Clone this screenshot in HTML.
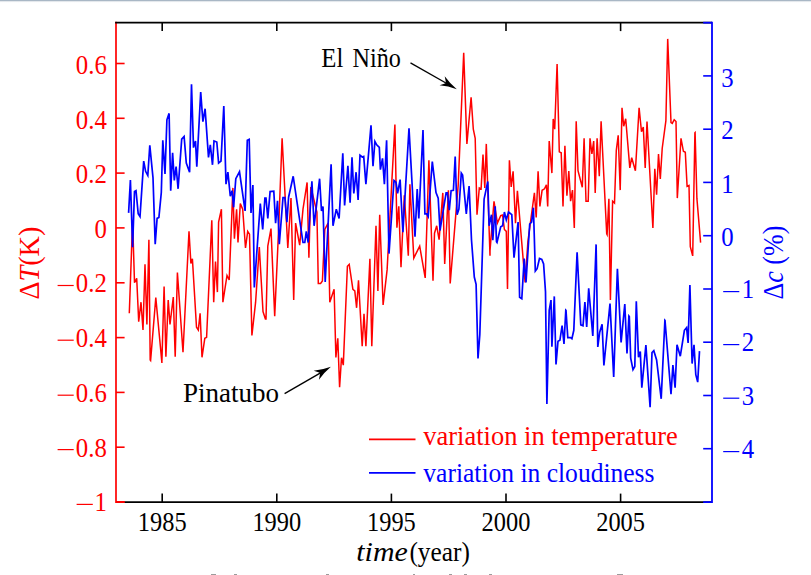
<!DOCTYPE html>
<html><head><meta charset="utf-8"><style>
html,body{margin:0;padding:0;background:#fff;width:811px;height:575px;overflow:hidden}
#top{position:absolute;left:0;top:0;width:811px;height:3px;background:linear-gradient(#a9b7c5 0px,#a9b7c5 0.8px,#e4e8ec 1.5px,#fff 2.6px)}
svg{position:absolute;left:0;top:0}
text{font-family:"Liberation Serif",serif}
</style></head><body>
<div id="top"></div>
<svg width="811" height="575" viewBox="0 0 811 575">
<line x1="162.2" y1="502" x2="162.2" y2="493.6" stroke="#000" stroke-width="1.6"/>
<line x1="162.2" y1="22.7" x2="162.2" y2="31.1" stroke="#000" stroke-width="1.6"/>
<line x1="276.8" y1="502" x2="276.8" y2="493.6" stroke="#000" stroke-width="1.6"/>
<line x1="276.8" y1="22.7" x2="276.8" y2="31.1" stroke="#000" stroke-width="1.6"/>
<line x1="391.4" y1="502" x2="391.4" y2="493.6" stroke="#000" stroke-width="1.6"/>
<line x1="391.4" y1="22.7" x2="391.4" y2="31.1" stroke="#000" stroke-width="1.6"/>
<line x1="506.0" y1="502" x2="506.0" y2="493.6" stroke="#000" stroke-width="1.6"/>
<line x1="506.0" y1="22.7" x2="506.0" y2="31.1" stroke="#000" stroke-width="1.6"/>
<line x1="620.6" y1="502" x2="620.6" y2="493.6" stroke="#000" stroke-width="1.6"/>
<line x1="620.6" y1="22.7" x2="620.6" y2="31.1" stroke="#000" stroke-width="1.6"/>
<path d="M129.3,313.3 L132.6,220.3 L134.5,282.8 L136.7,278.2 L138.7,321.7 L141.0,302.2 L143.0,330.0 L145.0,264.3 L146.9,324.4 L148.9,239.7 L150.2,360.0 L150.6,360.5 L155.8,297.6 L160.4,346.6 L161.9,362.9 L161.9,361.4 L164.1,286.5 L165.9,356.8 L168.2,300.0 L170.0,324.4 L173.3,297.1 L175.2,356.8 L177.4,272.6 L183.0,352.2 L189.0,231.4 L190.9,263.4 L192.4,258.8 L196.5,327.2 L198.3,330.0 L200.1,313.3 L202.0,357.3 L204.8,338.3 L206.6,337.4 L211.8,220.3 L213.7,302.2 L215.5,261.5 L217.4,292.1 L218.6,222.1 L221.4,209.2 L222.9,302.2 L227.0,275.4 L229.2,280.0 L232.9,187.9 L234.4,238.8 L236.6,209.2 L238.0,242.5 L240.3,203.6 L242.7,209.2 L245.5,248.0 L247.7,231.4 L249.5,234.2 L251.9,335.5 L255.6,302.2 L259.3,247.1 L263.0,311.5 L265.4,318.9 L266.0,318.9 L267.8,246.2 L271.0,228.6 L274.7,316.1 L278.4,234.2 L282.1,138.3 L287.8,248.0 L291.0,198.1 L293.7,300.0 L295.6,223.1 L299.7,245.2 L303.0,209.2 L307.1,182.4 L308.9,257.8 L310.8,187.0 L316.9,212.0 L318.3,283.4 L320.6,283.4 L322.4,281.0 L324.8,229.5 L328.1,223.1 L329.8,302.2 L334.1,289.3 L335.9,357.4 L337.8,338.3 L339.6,387.3 L341.5,357.7 L343.3,365.1 L347.4,266.2 L349.2,264.3 L352.9,289.3 L354.8,290.8 L356.6,307.8 L358.5,280.4 L362.2,346.3 L364.0,313.7 L365.9,346.3 L369.9,258.8 L371.8,346.3 L376.0,225.8 L377.9,291.1 L379.7,214.7 L383.1,305.0 L387.1,269.9 L394.9,124.5 L396.9,227.7 L398.8,206.4 L401.0,267.1 L404.3,195.3 L408.3,255.8 L409.9,184.2 L413.8,258.0 L419.7,246.2 L425.2,277.9 L428.9,160.2 L433.0,280.7 L434.5,233.2 L436.7,225.8 L439.1,239.7 L442.8,192.9 L444.7,264.0 L448.4,190.3 L450.2,283.5 L458.2,185.1 L463.7,52.9 L466.9,143.9 L471.1,97.3 L473.3,129.1 L475.2,138.3 L477.0,214.7 L479.3,187.9 L481.1,188.8 L483.0,154.6 L484.8,187.9 L486.3,143.9 L490.0,255.7 L490.0,250.8 L494.0,201.4 L497.4,223.1 L500.7,215.7 L502.6,215.1 L504.4,229.5 L506.3,231.4 L507.5,289.0 L509.4,160.2 L511.2,187.0 L513.1,171.3 L515.5,223.1 L517.4,190.7 L525.1,282.5 L527.9,241.5 L534.4,192.9 L536.2,217.5 L538.1,171.3 L539.9,206.4 L542.1,190.3 L544.5,188.8 L546.4,184.8 L547.7,206.4 L549.2,141.1 L551.9,173.1 L553.2,118.9 L554.7,129.1 L557.1,64.0 L559.3,151.8 L561.2,152.8 L563.0,206.4 L564.9,145.7 L566.9,195.7 L568.8,171.1 L570.6,201.2 L572.5,190.1 L574.3,228.0 L576.2,121.2 L578.0,170.7 L582.3,187.3 L584.1,138.3 L586.0,201.2 L588.2,201.2 L590.0,138.3 L591.9,154.0 L593.7,141.1 L595.2,192.9 L597.1,138.3 L599.3,176.2 L601.1,121.2 L606.7,233.7 L607.1,234.5 L608.9,198.8 L610.4,299.9 L612.6,201.2 L614.5,203.1 L616.3,150.3 L618.2,135.4 L620.2,190.1 L622.0,107.7 L623.7,126.2 L625.7,118.8 L629.8,167.9 L631.7,157.7 L635.4,170.7 L639.1,107.7 L641.5,131.7 L643.3,127.1 L645.2,167.9 L647.0,121.5 L652.9,228.0 L654.8,168.8 L656.6,194.7 L658.5,154.0 L660.3,179.0 L662.2,148.5 L665.9,120.6 L667.7,38.9 L671.0,122.5 L672.3,123.4 L674.2,119.7 L676.0,121.5 L677.3,198.1 L681.0,138.3 L683.4,151.3 L685.3,152.2 L687.1,186.4 L689.0,185.5 L690.3,246.6 L692.7,255.9 L694.9,132.8 L695.1,132.6 L696.9,198.4 L700.6,242.6" fill="none" stroke="#f00" stroke-width="1.5" stroke-linejoin="miter"/>
<path d="M128.6,212.9 L130.4,180.0 L132.6,247.1 L134.5,191.6 L136.0,190.7 L138.2,213.8 L140.0,216.6 L143.7,161.1 L145.6,171.3 L147.8,175.5 L149.8,145.3 L153.0,177.7 L155.2,244.3 L157.1,218.4 L158.9,217.5 L161.3,192.5 L162.8,140.2 L165.0,174.0 L166.9,119.8 L169.1,113.4 L170.7,190.7 L172.6,152.8 L174.3,180.5 L176.1,166.6 L178.1,188.8 L181.7,139.2 L184.1,136.5 L186.3,163.0 L189.6,172.2 L191.5,84.3 L193.5,147.6 L195.5,141.1 L196.8,166.6 L200.7,92.1 L202.9,121.7 L205.1,108.7 L208.5,157.4 L210.3,144.8 L212.5,164.8 L214.0,141.0 L216.8,142.0 L218.6,163.0 L221.0,161.1 L223.8,106.0 L226.0,184.2 L227.9,172.2 L230.3,196.2 L232.1,190.7 L233.6,207.3 L235.8,178.7 L239.5,171.8 L245.1,211.0 L247.3,140.2 L249.2,139.3 L251.0,212.9 L252.9,185.1 L254.3,287.4 L260.3,203.6 L262.7,229.5 L264.9,198.1 L266.0,198.1 L267.8,218.4 L270.1,191.6 L273.8,191.1 L275.6,223.1 L277.5,200.9 L279.3,244.3 L283.0,197.7 L284.9,197.7 L286.9,222.1 L288.6,197.2 L293.2,176.3 L303.0,242.5 L304.8,242.5 L306.3,231.4 L308.2,242.5 L311.9,181.4 L314.1,225.8 L319.6,178.7 L321.5,211.0 L323.0,206.4 L325.2,281.9 L331.1,164.4 L333.0,225.8 L336.3,209.2 L339.1,218.4 L342.8,153.3 L344.6,205.5 L347.9,165.7 L350.1,202.7 L352.0,157.4 L353.8,193.5 L356.1,172.2 L358.1,199.9 L360.0,155.2 L362.2,157.0 L363.7,156.5 L365.9,184.2 L371.0,125.4 L373.0,166.3 L374.9,141.4 L376.7,144.8 L379.3,147.4 L380.4,169.6 L382.5,158.3 L384.4,184.2 L386.6,140.2 L389.0,253.6 L394.0,180.5 L396.0,182.3 L397.6,193.4 L400.1,179.6 L402.9,232.3 L409.0,128.2 L415.0,236.8 L417.2,189.0 L418.8,218.4 L423.0,130.0 L424.9,213.8 L426.7,213.8 L428.2,216.6 L432.3,161.5 L436.0,192.5 L438.2,198.1 L440.0,230.5 L446.1,192.9 L447.4,192.9 L449.3,210.1 L451.1,190.7 L453.4,190.3 L455.2,156.5 L457.1,214.7 L458.9,209.2 L461.3,173.1 L462.6,175.0 L466.3,213.8 L469.1,186.1 L471.5,240.0 L474.3,277.0 L476.1,284.4 L478.0,358.5 L479.8,334.8 L484.1,199.0 L487.8,181.4 L489.1,225.8 L491.5,214.7 L492.8,240.3 L495.2,206.4 L496.5,241.8 L497.0,242.5 L500.7,226.8 L502.6,225.8 L504.4,212.0 L506.3,219.9 L508.5,212.0 L511.8,214.7 L514.0,257.6 L514.9,249.9 L518.1,222.1 L519.6,297.3 L521.8,298.8 L524.2,258.5 L526.0,282.5 L529.7,224.0 L531.6,222.1 L533.4,207.7 L534.4,240.0 L535.3,271.1 L537.1,268.7 L539.5,258.5 L541.8,259.4 L543.6,264.0 L545.5,291.8 L546.9,404.1 L549.2,310.3 L551.0,300.1 L551.9,346.8 L554.3,296.4 L556.0,364.4 L558.0,341.3 L559.9,340.3 L562.1,325.5 L564.0,344.0 L565.8,310.3 L566.0,310.5 L567.8,337.7 L570.6,337.7 L571.9,338.7 L573.8,330.3 L577.1,252.2 L580.8,324.8 L583.0,325.7 L584.9,302.1 L586.7,327.0 L588.7,288.3 L592.8,335.9 L596.1,244.4 L597.8,347.0 L599.7,332.2 L602.1,324.3 L603.9,365.5 L610.0,303.6 L613.7,377.0 L617.4,268.8 L621.1,342.4 L624.8,304.0 L627.0,353.5 L628.9,316.0 L629.3,316.5 L630.7,358.1 L633.0,369.6 L634.8,366.4 L636.3,301.2 L638.5,357.2 L640.3,351.6 L641.8,387.7 L645.9,345.1 L650.1,407.1 L652.0,352.5 L653.8,350.7 L656.6,359.9 L661.2,398.8 L664.9,320.2 L665.0,320.3 L671.0,394.2 L672.9,365.1 L675.1,387.7 L677.0,344.8 L680.3,356.2 L684.4,330.3 L686.6,327.6 L688.1,342.9 L689.9,285.1 L692.1,363.6 L694.0,344.8 L695.8,374.7 L697.7,382.1 L699.5,351.1" fill="none" stroke="#00f" stroke-width="1.7" stroke-linejoin="miter"/>
<line x1="116" y1="21.8" x2="116" y2="502.9" stroke="#f00" stroke-width="1.7"/>
<line x1="115.15" y1="22.7" x2="712" y2="22.7" stroke="#000" stroke-width="1.8"/>
<line x1="116" y1="502.1" x2="712" y2="502.1" stroke="#000" stroke-width="1.8"/>
<line x1="116" y1="63.5" x2="124.6" y2="63.5" stroke="#f00" stroke-width="1.6"/>
<line x1="116" y1="118.3" x2="124.6" y2="118.3" stroke="#f00" stroke-width="1.6"/>
<line x1="116" y1="173.1" x2="124.6" y2="173.1" stroke="#f00" stroke-width="1.6"/>
<line x1="116" y1="227.9" x2="124.6" y2="227.9" stroke="#f00" stroke-width="1.6"/>
<line x1="116" y1="282.8" x2="124.6" y2="282.8" stroke="#f00" stroke-width="1.6"/>
<line x1="116" y1="337.6" x2="124.6" y2="337.6" stroke="#f00" stroke-width="1.6"/>
<line x1="116" y1="392.4" x2="124.6" y2="392.4" stroke="#f00" stroke-width="1.6"/>
<line x1="116" y1="447.2" x2="124.6" y2="447.2" stroke="#f00" stroke-width="1.6"/>
<line x1="116" y1="502.0" x2="124.6" y2="502.0" stroke="#f00" stroke-width="1.6"/>
<line x1="712" y1="21.8" x2="712" y2="502.9" stroke="#00f" stroke-width="1.8"/>
<line x1="712" y1="75.9" x2="703.2" y2="75.9" stroke="#00f" stroke-width="1.6"/>
<line x1="712" y1="129.2" x2="703.2" y2="129.2" stroke="#00f" stroke-width="1.6"/>
<line x1="712" y1="182.4" x2="703.2" y2="182.4" stroke="#00f" stroke-width="1.6"/>
<line x1="712" y1="235.7" x2="703.2" y2="235.7" stroke="#00f" stroke-width="1.6"/>
<line x1="712" y1="289.0" x2="703.2" y2="289.0" stroke="#00f" stroke-width="1.6"/>
<line x1="712" y1="342.2" x2="703.2" y2="342.2" stroke="#00f" stroke-width="1.6"/>
<line x1="712" y1="395.5" x2="703.2" y2="395.5" stroke="#00f" stroke-width="1.6"/>
<line x1="712" y1="448.7" x2="703.2" y2="448.7" stroke="#00f" stroke-width="1.6"/>
<line x1="712" y1="22.7" x2="703.2" y2="22.7" stroke="#00f" stroke-width="1.8"/>
<line x1="712" y1="502.1" x2="703.2" y2="502.1" stroke="#00f" stroke-width="1.8"/>
<line x1="116" y1="502" x2="124.6" y2="502" stroke="#f00" stroke-width="1.8"/>
<g transform="scale(1,1.08)" font-size="24.4" fill="#000"><text x="162.2" y="491.94" text-anchor="middle">1985</text><text x="276.8" y="491.94" text-anchor="middle">1990</text><text x="391.4" y="491.94" text-anchor="middle">1995</text><text x="506.0" y="491.94" text-anchor="middle">2000</text><text x="620.6" y="491.94" text-anchor="middle">2005</text></g>
<g transform="scale(1,1.08)" font-size="24.8" fill="#f00"><text x="106.8" y="68.84" text-anchor="end">0.6</text><text x="106.8" y="119.86" text-anchor="end">0.4</text><text x="106.8" y="169.77" text-anchor="end">0.2</text><text x="106.8" y="220.79" text-anchor="end">0</text><text x="106.8" y="270.79" text-anchor="end">0.2</text><text x="106.8" y="321.62" text-anchor="end">0.4</text><text x="106.8" y="372.55" text-anchor="end">0.6</text><text x="106.8" y="422.69" text-anchor="end">0.8</text><text x="106.8" y="473.61" text-anchor="end">1</text></g><line x1="57.6" y1="285.5" x2="73.7" y2="285.5" stroke="#f00" stroke-width="1.2"/><line x1="57.6" y1="340.2" x2="73.7" y2="340.2" stroke="#f00" stroke-width="1.2"/><line x1="57.6" y1="395.2" x2="73.7" y2="395.2" stroke="#f00" stroke-width="1.2"/><line x1="57.6" y1="449.6" x2="73.7" y2="449.6" stroke="#f00" stroke-width="1.2"/><line x1="76.6" y1="504.4" x2="92.8" y2="504.4" stroke="#f00" stroke-width="1.2"/>
<g transform="scale(1,1.08)" font-size="24.8" fill="#00f"><text x="721.3" y="80.28">3</text><text x="721.3" y="128.94">2</text><text x="721.3" y="178.89">1</text><text x="721.3" y="228.10">0</text><text x="741.7" y="276.20">1</text><text x="741.7" y="325.19">2</text><text x="741.7" y="375.19">3</text><text x="741.7" y="424.26">4</text></g><line x1="723.2" y1="291.6" x2="739.3" y2="291.6" stroke="#00f" stroke-width="1.2"/><line x1="723.2" y1="344.6" x2="739.3" y2="344.6" stroke="#00f" stroke-width="1.2"/><line x1="723.2" y1="398.2" x2="739.3" y2="398.2" stroke="#00f" stroke-width="1.2"/><line x1="723.2" y1="451.6" x2="739.3" y2="451.6" stroke="#00f" stroke-width="1.2"/>
<line x1="410.5" y1="62.8" x2="446.81" y2="83.50" stroke="#000" stroke-width="1.35"/><path d="M456.80,89.20 Q449.77,83.35 444.69,76.31 Q445.77,81.30 445.94,83.01 Q444.38,83.73 439.54,85.35 Q448.19,86.13 456.80,89.20Z" fill="#000"/>
<line x1="284.6" y1="393.7" x2="320.96" y2="372.58" stroke="#000" stroke-width="1.35"/><path d="M330.90,366.80 Q322.31,369.94 313.68,370.79 Q318.52,372.37 320.09,373.08 Q319.93,374.79 318.90,379.79 Q323.92,372.70 330.90,366.80Z" fill="#000"/>
<text x="321.3" y="67" font-size="27" textLength="22" lengthAdjust="spacingAndGlyphs" fill="#000">El</text>
<text x="352.6" y="67" font-size="27" textLength="48.3" lengthAdjust="spacingAndGlyphs" fill="#000">Niño</text>
<text x="183" y="402.2" font-size="27" textLength="96" lengthAdjust="spacingAndGlyphs" fill="#000">Pinatubo</text>
<line x1="369" y1="439.4" x2="415.5" y2="439.4" stroke="#f00" stroke-width="1.7"/>
<line x1="369" y1="472.9" x2="415.5" y2="472.9" stroke="#00f" stroke-width="1.7"/>
<text x="423.3" y="445.3" font-size="26.5" textLength="254.5" lengthAdjust="spacingAndGlyphs" fill="#f00">variation in temperature</text>
<text x="423.3" y="481.5" font-size="26.5" textLength="231.2" lengthAdjust="spacingAndGlyphs" fill="#00f">variation in cloudiness</text>
<text x="356.3" y="561.4" font-size="26.5" font-style="italic" textLength="51.5" lengthAdjust="spacingAndGlyphs" fill="#000">time</text>
<text x="409.4" y="561.4" font-size="26.5" textLength="60.5" lengthAdjust="spacingAndGlyphs" fill="#000">(year)</text>
<text transform="translate(39.2,299.6) rotate(-90)" x="0" y="0" font-size="28.5" textLength="73" lengthAdjust="spacingAndGlyphs" fill="#f00">Δ<tspan font-style="italic">T</tspan>(K)</text>
<text transform="translate(783,299.6) rotate(-90)" x="0" y="0" font-size="28.5" textLength="74" lengthAdjust="spacingAndGlyphs" fill="#00f">Δ<tspan font-style="italic">c</tspan> (%)</text>
<rect x="211" y="574" width="5" height="1" fill="#9c9c9c"/>
<rect x="234" y="574" width="3" height="1" fill="#9c9c9c"/>
<rect x="326" y="574" width="3" height="1" fill="#9c9c9c"/>
<rect x="413" y="574" width="2" height="1" fill="#9c9c9c"/>
<rect x="449" y="574" width="3" height="1" fill="#9c9c9c"/>
<rect x="464" y="574" width="3" height="1" fill="#9c9c9c"/>
<rect x="489" y="574" width="3" height="1" fill="#9c9c9c"/>
<rect x="617" y="574" width="6" height="1" fill="#9c9c9c"/>
</svg>
</body></html>
